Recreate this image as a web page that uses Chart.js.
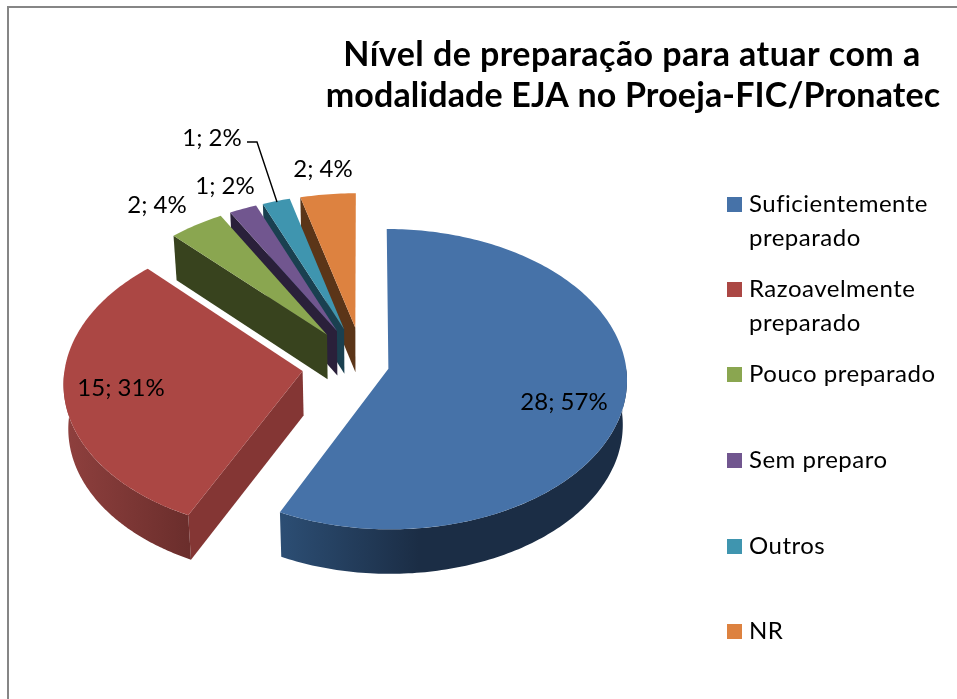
<!DOCTYPE html>
<html>
<head>
<meta charset="utf-8">
<style>html,body{margin:0;padding:0;background:#fff}canvas{display:block}</style>
<script src="https://cdn.jsdelivr.net/npm/chart.js@4"></script>
</head>
<body>
<canvas id="c" width="957" height="699"></canvas>
<script>
const categories = ['Suficientemente preparado','Razoavelmente preparado','Pouco preparado','Sem preparo','Outros','NR'];
const counts = [28,15,2,1,1,2];
const percents = [57,31,4,2,2,4];
const topColors = ['#4672A8','#AB4744','#8AA650','#71568F','#3F95AF','#DD8240'];
const explode = [26,61,61,61,61,61];
const titleLines = ['Nível de preparação para atuar com a','modalidade EJA no Proeja-FIC/Pronatec'];

const FONT = 'Lato, Carlito, sans-serif';
const wallEdge = ['#1D3149','#843634','#38431E','#2A203A','#1A4050','#5B3518'];
const wallFrom = ['#2C4E74','#8F403E','#38431E','#2A203A','#1A4050','#5B3518'];
const wallTo   = ['#1B2D45','#6B2E2C','#38431E','#2A203A','#1A4050','#5B3518'];
const labelSpots = [[564,402],[121,388],[157,205],[225,186],[212,138],[323,169]];
const legendRows = [204,289,374,460,546,631];
const FLAT = 0.627, PERSP = 0.07, DEPTH = 44.5, BOTTOM_X = 0.984;

const pie3d = {
  id:'pie3d',
  beforeDraw(chart){
    const ctx = chart.ctx;
    ctx.save();
    ctx.fillStyle='#fff'; ctx.fillRect(0,0,chart.width,chart.height);
    ctx.fillStyle='#868686';
    ctx.fillRect(7,6,chart.width-7,2);
    ctx.fillRect(7,6,2,chart.height-6);
    ctx.restore();
  },
  beforeDatasetDraw(chart,args){
    const ctx = chart.ctx, arcs = chart.getDatasetMeta(args.index).data;
    const order = arcs.map((_,i)=>i).reverse();
    ctx.save();
    for(const i of order){
      const arc = arcs[i], R = arc.outerRadius, cx = arc.x, cy = arc.y;
      const off = arc.options.offset, mid = (arc.startAngle+arc.endAngle)/2;
      const ou = off*Math.cos(mid)/R, ov = off*Math.sin(mid)/R;
      const top = (u,v)=>{
        const f = 1/(1-PERSP*v);
        return [cx+R*u*f, cy+R*FLAT*v*f];
      };
      const bot = (p)=>[cx+(p[0]-cx)*BOTTOM_X, p[1]+DEPTH];
      const rim = a=>top(ou+Math.cos(a),ov+Math.sin(a));
      const tip = top(ou,ov);
      const n = Math.max(2,Math.ceil((arc.endAngle-arc.startAngle)/(Math.PI/180)));
      const a0 = arc.startAngle, a1 = arc.endAngle;
      const poly = pts=>{ctx.beginPath();pts.forEach((p,k)=>k?ctx.lineTo(p[0],p[1]):ctx.moveTo(p[0],p[1]));ctx.closePath();};
      // radial side walls facing the viewer
      ctx.fillStyle = wallEdge[i];
      if(Math.cos(a0)<-1e-6){const e=rim(a0);poly([tip,e,bot(e),bot(tip)]);ctx.fill();}
      if(Math.cos(a1)>1e-6){const e=rim(a1);poly([tip,e,bot(e),bot(tip)]);ctx.fill();}
      // curved outer wall
      const w0 = Math.max(a0,0), w1 = Math.min(a1,Math.PI);
      if(w1>w0){
        const pts=[];
        for(let k=0;k<=120;k++){pts.push(rim(w0+(w1-w0)*k/120));}
        const all = pts.concat(pts.slice().reverse().map(bot));
        const xs = pts.map(p=>p[0]);
        const g = ctx.createLinearGradient(Math.min(...xs),0,Math.max(...xs),0);
        if(i===0){g.addColorStop(0,wallFrom[i]);g.addColorStop(0.4,wallTo[i]);g.addColorStop(1,wallTo[i]);}
        else{g.addColorStop(0,wallFrom[i]);g.addColorStop(1,wallTo[i]);}
        ctx.fillStyle=g; poly(all); ctx.fill();
      }
      // top face
      const face=[tip];
      for(let k=0;k<=n;k++){face.push(rim(a0+(a1-a0)*k/n));}
      ctx.fillStyle=topColors[i]; poly(face); ctx.fill();
    }
    ctx.restore();
    return false;
  },
  afterDraw(chart){
    const ctx = chart.ctx;
    ctx.save();
    ctx.fillStyle='#000';
    ctx.textBaseline='middle';
    // title
    ctx.textAlign='center';
    ctx.font='bold 34px '+FONT;
    ctx.letterSpacing='0.45px';
    ctx.fillText(titleLines[0],632,55);
    ctx.letterSpacing='0.15px';
    ctx.fillText(titleLines[1],633,96);
    // value labels
    ctx.letterSpacing='0px';
    ctx.font='24px '+FONT;
    counts.forEach((c,i)=>{
      ctx.fillText(c+'; '+percents[i]+'%',labelSpots[i][0],labelSpots[i][1]);
    });
    // leader line for the "Outros" label
    ctx.strokeStyle='#000';ctx.lineWidth=1.4;
    ctx.beginPath();ctx.moveTo(247,142);ctx.lineTo(257,142);ctx.lineTo(277,202);ctx.stroke();
    // legend
    ctx.textAlign='left';
    ctx.letterSpacing='0.5px';
    categories.forEach((name,i)=>{
      const y=legendRows[i];
      ctx.fillStyle=topColors[i];
      ctx.fillRect(727,y-7,15,15);
      ctx.fillStyle='#000';
      let lines=[name];
      if(ctx.measureText(name).width>200){const s=name.lastIndexOf(' ');lines=[name.slice(0,s),name.slice(s+1)];}
      lines.forEach((l,k)=>ctx.fillText(l,749,y+k*34));
    });
    ctx.restore();
  }
};

new Chart(document.getElementById('c'),{
  type:'pie',
  data:{labels:categories,datasets:[{data:counts,backgroundColor:topColors,offset:explode,borderWidth:0}]},
  options:{
    responsive:false,
    animation:false,
    layout:{padding:{left:95,right:326,top:97,bottom:66}},
    plugins:{legend:{display:false},tooltip:{enabled:false},title:{display:false}}
  },
  plugins:[pie3d]
});
</script>
</body>
</html>
